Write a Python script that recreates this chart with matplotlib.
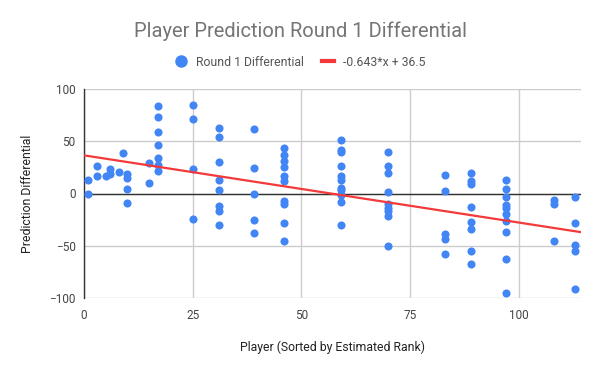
import matplotlib
matplotlib.use("Agg")
import matplotlib.pyplot as plt
from matplotlib.lines import Line2D
import numpy as np

players = [1, 1, 3, 3, 5, 6, 6, 8, 9, 10, 10, 10, 10, 15, 15,
           17, 17, 17, 17, 17, 17, 17,
           25, 25, 25, 25,
           31, 31, 31, 31, 31, 31, 31, 31,
           39, 39, 39, 39, 39,
           46, 46, 46, 46, 46, 46, 46, 46, 46, 46,
           59, 59, 59, 59, 59, 59, 59, 59, 59, 59, 59,
           70, 70, 70, 70, 70, 70, 70, 70, 70,
           83, 83, 83, 83, 83,
           89, 89, 89, 89, 89, 89, 89, 89,
           97, 97, 97, 97, 97, 97, 97, 97, 97, 97,
           108, 108, 108,
           113, 113, 113, 113, 113]
differential = [13, 0, 26, 17, 17, 19, 23, 21, 39, 19, 15, 4, -9, 29, 10,
                84, 73, 59, 46, 34, 27, 22,
                85, 71, 23, -24,
                63, 54, 30, 13, 3, -12, -17, -30,
                62, 24, 0, -25, -38,
                44, 37, 31, 25, 17, 12, -7, -10, -28, -45,
                51, 42, 40, 26, 17, 13, 5, 3, -1, -8, -30,
                40, 26, 20, 1, -10, -14, -17, -22, -50,
                18, 2, -39, -44, -58,
                20, 12, 9, -13, -27, -34, -55, -67,
                13, 4, -3, -11, -14, -20, -26, -37, -63, -95,
                -6, -10, -45,
                -3, -28, -49, -55, -91]
slope = -0.643
intercept = 36.5
series_label = "Round 1 Differential"
trend_label = "-0.643*x + 36.5"
x_ticks = [0, 25, 50, 75, 100]
y_ticks = [-100, -50, 0, 50, 100]

plt.rcParams['font.family'] = ['Roboto', 'DejaVu Sans']

fig = plt.figure(figsize=(6, 3.71), dpi=100)
ax = fig.add_axes([84/600, 1-298/371, (581-84)/600, (298-89)/371])

blue = '#4285f4'
red = '#f4393a'

ax.set_xlim(0, 114.3)
ax.set_ylim(-100, 100)
ax.set_xticks(x_ticks)
ax.set_yticks(y_ticks)
ax.grid(True, color='#cccccc', linewidth=1)
ax.set_axisbelow(True)
for s in ['top', 'right', 'bottom']:
    ax.spines[s].set_visible(False)
ax.spines['left'].set_color('#333333')
ax.spines['left'].set_linewidth(1)
ax.axhline(0, color='#333333', linewidth=1, zorder=1)
ax.tick_params(axis='x', length=0, labelsize=8.5, colors='#444444', pad=8)
ax.tick_params(axis='y', length=0, labelsize=8.5, colors='#444444', pad=6)

ax.scatter(players, differential, s=34, color=blue, zorder=3, linewidths=0)
xs = np.array([0, 114.3])
ax.plot(xs, slope*xs + intercept, color=red, linewidth=1.6, zorder=4)

ax.set_xlabel("Player (Sorted by Estimated Rank)", fontsize=8.8, color='#222222', labelpad=13)
ax.set_ylabel("Prediction Differential", fontsize=8.8, color='#222222', labelpad=11)

fig.text(0.5, 1-31/371, "Player Prediction Round 1 Differential", ha='center', va='center',
         fontsize=14.5, color='#757575')

handles = [Line2D([], [], marker='o', linestyle='none', color=blue, markersize=8),
           Line2D([], [], color=red, linewidth=3)]
fig.legend(handles, [series_label, trend_label], loc='center', bbox_to_anchor=(0.5, 1-62/371),
           ncol=2, frameon=False, fontsize=8.8, labelcolor='#555555', handlelength=1.0,
           columnspacing=1.5, handletextpad=0.7)

fig.savefig('out.png', dpi=100)
